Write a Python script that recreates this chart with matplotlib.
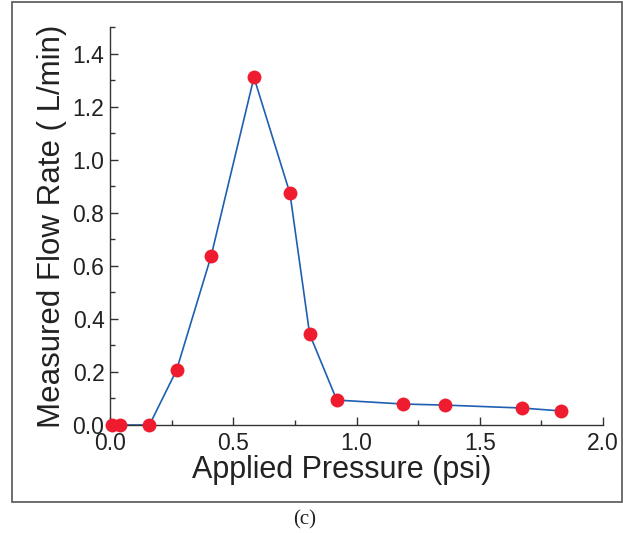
import matplotlib
matplotlib.use("Agg")
import matplotlib.pyplot as plt
from matplotlib.patches import Rectangle

pressure = [0.01, 0.04, 0.16, 0.27, 0.41, 0.584, 0.73, 0.81, 0.92, 1.19, 1.36, 1.67, 1.83]
flow = [0.0, 0.0, 0.0, 0.207, 0.636, 1.31, 0.873, 0.342, 0.094, 0.079, 0.075, 0.064, 0.053]

xticks = [0.0, 0.5, 1.0, 1.5, 2.0]
yticks = [0.0, 0.2, 0.4, 0.6, 0.8, 1.0, 1.2, 1.4]
xminor = [0.25, 0.75, 1.25, 1.75]
yminor = [0.1, 0.3, 0.5, 0.7, 0.9, 1.1, 1.3, 1.5]

plt.rcParams['font.family'] = ['Liberation Sans', 'DejaVu Sans']

fig = plt.figure(figsize=(6.23, 5.33), dpi=100)
ax = fig.add_axes([110 / 623, 108 / 533, 493 / 623, 398 / 533])

ax.plot(pressure, flow, color='#1f5fb0', lw=1.2, zorder=2)
ax.plot(pressure, flow, 'o', color='#ee1c2e', ms=10, mec='none', zorder=3, clip_on=False)

ax.set_xlim(0, 2.0)
ax.set_ylim(0, 1.5)
ax.set_xticks(xticks)
ax.set_xticklabels(['%.1f' % v for v in xticks])
ax.set_xticks(xminor, minor=True)
ax.set_yticks(yticks)
ax.set_yticklabels(['%.1f' % v for v in yticks])
ax.set_yticks(yminor, minor=True)

for s in ['top', 'right']:
    ax.spines[s].set_visible(False)
for s in ['left', 'bottom']:
    ax.spines[s].set_color('#333333')
    ax.spines[s].set_linewidth(1.0)

ax.tick_params(which='both', direction='in', color='#333333', width=1.0,
               labelsize=16.5, labelcolor='#222222')
ax.tick_params(which='major', length=6)
ax.tick_params(which='minor', length=3.5)
ax.tick_params(axis='x', pad=5)
ax.tick_params(axis='y', pad=4)

ax.set_xlabel('Applied Pressure (psi)', fontsize=22, color='#222222', labelpad=2)
ax.xaxis.set_label_coords(0.469, -0.075)
ax.set_ylabel('Measured Flow Rate ( L/min)', fontsize=22.5, color='#222222', labelpad=4)

fig.patches.append(Rectangle((12 / 623, 31 / 533), 610 / 623, 500 / 533,
                             transform=fig.transFigure, fill=False,
                             edgecolor='#555555', lw=1.2))
fig.text(305 / 623, 13 / 533, '(c)', family='Liberation Serif', fontsize=15,
         ha='center', va='center', color='#222222')

fig.savefig('out.png', dpi=100)
